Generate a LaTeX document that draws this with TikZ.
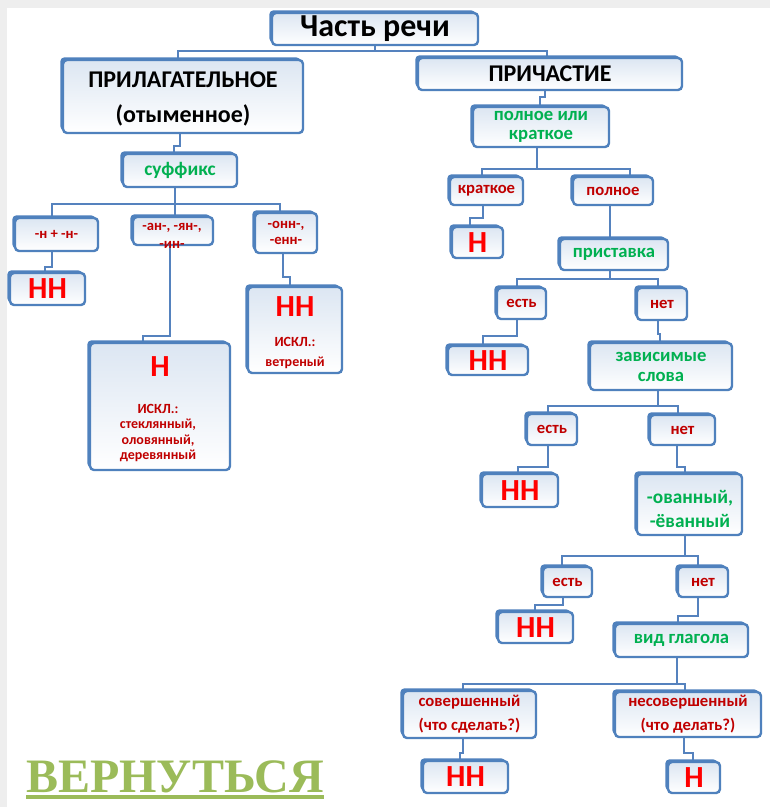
\documentclass[tikz,border=0pt]{standalone}
\usepackage{fontspec}
\setmainfont{Carlito}
\newfontfamily\rsfont{Liberation Serif}
\usetikzlibrary{calc,shadows}
\definecolor{boxblue}{HTML}{4F81BD}
\definecolor{lineblue}{HTML}{5582BE}
\definecolor{boxfill}{HTML}{DCE6F2}
\definecolor{grn}{HTML}{00B050}
\definecolor{rd}{HTML}{FF0000}
\definecolor{drd}{HTML}{C00000}
\definecolor{olivegrn}{HTML}{9BBB59}
\definecolor{bggray}{HTML}{EEEEEE}
\pgfdeclarelayer{bglayer}\pgfdeclarelayer{lines}\pgfsetlayers{bglayer,lines,main}
\newcommand\fs[2]{\fontsize{#1}{#2}\selectfont\bfseries}
\newcommand\bx[7][]{\node[box,#1,minimum width={(#5-#3)*0.75pt},minimum height={(#6-#4)*0.75pt}] (#2) at ({(#3+#5)/2},{(#4+#6)/2}) {#7};}
\tikzset{
 box/.style={draw=boxblue,line width=1.8pt,rounded corners=3pt,top color=boxfill,bottom color=white,inner sep=0pt,align=center,
   drop shadow={shadow xshift=-2pt,shadow yshift=2pt,fill=boxblue,opacity=1}},
 conn/.style={draw=lineblue,line width=1.9pt},
 ttl/.style={font=\fs{24}{28},text=black},
 hd/.style={font=\fs{18}{26},text=black},
 gl/.style={font=\fs{14}{14.25},text=grn},
 bigr/.style={font=\fs{23}{25},text=rd},
 sm/.style={font=\fs{12.5}{14},text=drd},
 smtwo/.style={font=\fs{12.5}{18},text=drd},
 sf/.style={font=\fs{11}{12},text=drd},
 txt/.style={inner sep=0pt,align=center},
}
\begin{document}
\begin{tikzpicture}[x=0.75pt,y=-0.75pt]
\useasboundingbox (0,0) rectangle (770,807);
\begin{pgfonlayer}{bglayer}
\fill[bggray] (0,0) rectangle (770,807);
\fill[white] (7,8) rectangle (770,807);
\end{pgfonlayer}

% left branch
\bx[ttl]{title}{272}{13}{478}{45}{Часть речи}
\bx{adj}{63}{60}{303}{133}{}
\node[txt,hd] (adjt) at (183,99) {ПРИЛАГАТЕЛЬНОЕ\\(отыменное)};
\bx[hd]{part}{418}{58}{682}{90}{ПРИЧАСТИЕ}
\bx[gl,font=\fs{14.5}{15}]{suff}{123}{154}{237}{187}{суффикс}
\bx[sf]{sa}{15}{218}{98}{251}{-н + -н-}
\bx{sb}{133}{217}{213}{245}{}
\node[txt,font=\fs{11}{13.5},text=drd] (sbt) at (172,236) {-ан-, -ян-,\\-ин-};
\bx[sf]{sc}{255}{213}{317}{253}{-онн-,\\-енн-}
\bx[bigr]{nn1}{10}{273}{85}{305}{НН}
\bx{bigh}{90}{343}{230}{470}{}
\node[txt,bigr] (bight) at (160,367) {Н};
\node[txt,font=\fs{10.5}{11.6},text=drd] (bighx) at (158,433) {ИСКЛ.:\\стеклянный,\\оловянный,\\деревянный};
\bx{nnv}{248}{287}{342}{373}{}
\node[txt,bigr] (nnvt) at (295,307) {НН};
\node[txt,font=\fs{10.5}{15},text=drd] (nnvx) at (295,353) {ИСКЛ.:\\ветреный};

% right branch
\bx[gl]{pk}{473}{107}{609}{147}{полное или\\краткое}
\bx[sm]{kr}{450}{177}{523}{205}{краткое}
\bx[sm]{pl}{573}{177}{653}{205}{полное}
\bx[bigr]{h1}{452}{227}{503}{258}{Н}
\bx[gl]{prist}{560}{239}{668}{270}{приставка}
\bx[sm]{e1}{497}{288}{546}{319}{есть}
\bx[sm]{no1}{637}{288}{687}{320}{нет}
\bx[bigr]{nn2}{448}{346}{528}{375}{НН}
\bx[gl,font=\fs{14}{15}]{dep}{590}{343}{732}{390}{зависимые\\слова}
\bx[sm]{e2}{527}{414}{577}{445}{есть}
\bx[sm]{no2}{650}{415}{715}{445}{нет}
\bx[bigr]{nn3}{482}{474}{558}{507}{НН}
\bx{ov}{637}{474}{742}{535}{}
\node[txt,font=\fs{14.5}{18},text=grn] (ovt) at (690,509) {-ованный,\\-ёванный};
\bx[sm]{e3}{543}{567}{592}{597}{есть}
\bx[sm]{no3}{678}{567}{728}{597}{нет}
\bx[bigr]{nn4}{498}{612}{573}{643}{НН}
\bx[gl]{vid}{615}{624}{748}{657}{вид глагола}
\bx[smtwo]{sov}{403}{691}{536}{738}{совершенный\\(что сделать?)}
\bx[smtwo]{nesov}{615}{692}{761}{737}{несовершенный\\(что делать?)}
\bx[bigr]{nn5}{423}{761}{508}{793}{НН}
\bx[bigr]{h2}{668}{762}{720}{793}{Н}

\node[anchor=base west,inner sep=0pt,font=\rsfont\bfseries\fontsize{36}{40}\selectfont,text=olivegrn] (back) at (26,792) {ВЕРНУТЬСЯ};
\draw[olivegrn,line width=2.3pt] ($(back.base west)+(0,5)$) -- ($(back.base east)+(0,5)$);

\begin{pgfonlayer}{lines}
\draw[conn] (title.south) |- ($(adj.north)+(-5,-8)$) -- ($(adj.north)+(-5,0)$);
\draw[conn] (title.south) |- ($(part.north)+(-3,-6)$) -- ($(part.north)+(-3,0)$);
\draw[conn] ($(adj.south)+(-3,0)$) |- ($(suff.north)+(-6,-7)$) -- ($(suff.north)+(-6,0)$);
\draw[conn] ($(suff.south)+(-5,0)$) |- ($(sa.north)+(-4.5,-13)$) -- ($(sa.north)+(-4.5,0)$);
\draw[conn] ($(suff.south)+(-5,0)$) |- ($(sc.north)+(-6,-8)$) -- ($(sc.north)+(-6,0)$);
\draw[conn] ($(suff.south)+(-5,0)$) -- ($(sb.north)+(2,0)$);
\draw[conn] ($(sa.south)+(-4.5,0)$) |- ($(nn1.north)+(-2.5,-5)$) -- ($(nn1.north)+(-2.5,0)$);
\draw[conn] ($(sb.south)+(-3,0)$) |- ($(bigh.north)+(-17,-6)$) -- ($(bigh.north)+(-17,0)$);
\draw[conn] ($(sc.south)+(-3,0)$) |- ($(nnv.north)+(-5,-9)$) -- ($(nnv.north)+(-5,0)$);
\draw[conn] ($(part.south)+(-5,0)$) |- ($(pk.north)+(-1,-9)$) -- ($(pk.north)+(-1,0)$);
\draw[conn] ($(pk.south)+(-4,0)$) |- ($(kr.north)+(-4.5,-7)$) -- ($(kr.north)+(-4.5,0)$);
\draw[conn] ($(pk.south)+(-4,0)$) |- ($(pl.north)+(17,-7)$) -- ($(pl.north)+(17,0)$);
\draw[conn] ($(kr.south)+(-3.5,0)$) |- ($(h1.north)+(-7.5,-8)$) -- ($(h1.north)+(-7.5,0)$);
\draw[conn] ($(pl.south)+(-3,0)$) -- ($(prist.north)+(-4,0)$);
\draw[conn] ($(prist.south)+(-4,0)$) |- ($(e1.north)+(-4.5,-8)$) -- ($(e1.north)+(-4.5,0)$);
\draw[conn] ($(prist.south)+(-4,0)$) |- ($(no1.north)+(-4,-8)$) -- ($(no1.north)+(-4,0)$);
\draw[conn] ($(e1.south)+(-4.5,0)$) |- ($(nn2.north)+(-5,-9)$) -- ($(nn2.north)+(-5,0)$);
\draw[conn] ($(no1.south)+(-4,0)$) |- ($(dep.north)+(-1,-8)$) -- ($(dep.north)+(-1,0)$);
\draw[conn] ($(dep.south)+(-3,0)$) |- ($(e2.north)+(-4,-7)$) -- ($(e2.north)+(-4,0)$);
\draw[conn] ($(dep.south)+(-3,0)$) |- ($(no2.north)+(-4.5,-8)$) -- ($(no2.north)+(-4.5,0)$);
\draw[conn] ($(e2.south)+(-4,0)$) |- ($(nn3.north)+(-2,-6)$) -- ($(nn3.north)+(-2,0)$);
\draw[conn] ($(no2.south)+(-5.5,0)$) |- ($(ov.north)+(-4.5,-6)$) -- ($(ov.north)+(-4.5,0)$);
\draw[conn] ($(ov.south)+(-4.5,0)$) |- ($(e3.north)+(-5.5,-10)$) -- ($(e3.north)+(-5.5,0)$);
\draw[conn] ($(ov.south)+(-4.5,0)$) |- ($(no3.north)+(-5,-10)$) -- ($(no3.north)+(-5,0)$);
\draw[conn] ($(e3.south)+(-4.5,0)$) |- ($(nn4.north)+(-0.5,-6)$) -- ($(nn4.north)+(-0.5,0)$);
\draw[conn] ($(no3.south)+(-5,0)$) |- ($(vid.north)+(-3.5,-7)$) -- ($(vid.north)+(-3.5,0)$);
\draw[conn] ($(vid.south)+(-4.5,0)$) |- ($(sov.north)+(-6.5,-6)$) -- ($(sov.north)+(-6.5,0)$);
\draw[conn] ($(vid.south)+(-4.5,0)$) |- ($(nesov.north)+(-3,-7)$) -- ($(nesov.north)+(-3,0)$);
\draw[conn] ($(sov.south)+(-6.5,0)$) |- ($(nn5.north)+(-5.5,-7)$) -- ($(nn5.north)+(-5.5,0)$);
\draw[conn] ($(nesov.south)+(-4,0)$) |- ($(h2.north)+(-1,-8)$) -- ($(h2.north)+(-1,0)$);
\end{pgfonlayer}
\end{tikzpicture}
\end{document}
